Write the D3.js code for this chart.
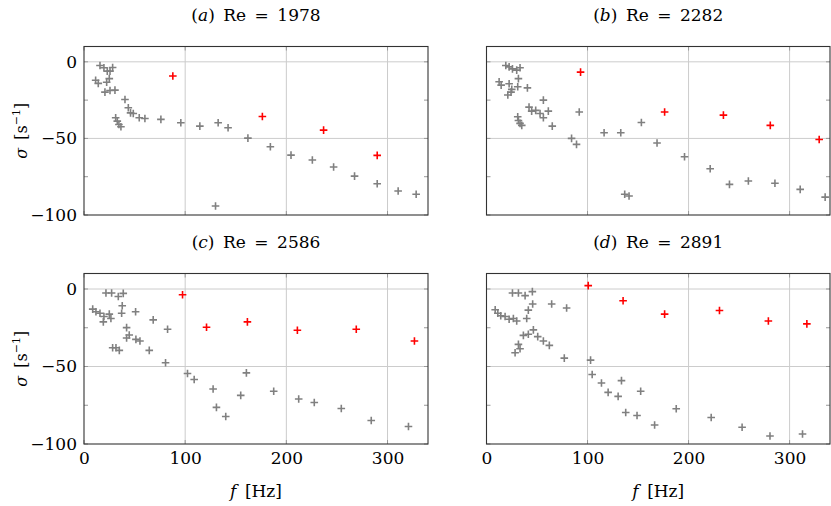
<!DOCTYPE html>
<html>
<head>
<meta charset="utf-8">
<script src="https://cdn.jsdelivr.net/npm/d3@7"></script>
<style>
  html, body { margin: 0; padding: 0; background: #fff; }
  svg text { font-family: "DejaVu Serif", "Liberation Serif", serif; fill: #000; }
</style>
</head>
<body>
<svg id="chart" width="831" height="506"></svg>
<script>
// ---------- data ----------
const panelTitles = ["a", "b", "c", "d"];
const reynolds = [1978, 2282, 2586, 2891];
const xTicks = [0, 100, 200, 300];
const yTicks = [-100, -50, 0];
const yMinorTicks = [-75, -25];

// (a) Re = 1978
const aGrayF = [15.8, 19.7, 28.3, 23, 25.7, 25, 11.5, 14.1, 22.4, 20.7, 25.7, 30.6, 40.5, 43.8, 46, 48.7, 54.6, 60.2, 31.3, 32.9, 34.5, 36.5, 76, 95.7, 114.5, 132.6, 142.4, 162, 184.2, 204.6, 225.7, 246.7, 267.4, 289.8, 310.5, 328.3, 130];
const aGrayS = [-2.4, -3.9, -3.7, -6.1, -6.1, -11, -12, -14.1, -13.3, -19.8, -18.7, -18.5, -24.6, -30, -33.3, -33.7, -36.5, -37, -36.5, -38.7, -40.9, -42.4, -37.6, -39.8, -42, -39.8, -43, -49.8, -55.4, -60.9, -64.1, -68.7, -74.6, -79.6, -84.3, -86.5, -94.1];
const aRedF = [87.8, 176.3, 236.8, 289.8];
const aRedS = [-9.3, -35.7, -44.6, -61.1];

// (b) Re = 2282
const bGrayF = [19.1, 22.4, 25.7, 29.9, 33.2, 31.6, 12.5, 14.5, 22.4, 30.9, 40.5, 25, 21.1, 24.3, 56.3, 42.1, 44.7, 48.7, 53, 61.2, 56.3, 30.9, 31.6, 33.2, 34.9, 65.1, 91.8, 84.2, 89.1, 116.4, 132.9, 153.3, 168.8, 196, 221.4, 240.5, 259.2, 285.5, 310.5, 335.2, 136.8, 141.1];
const bGrayS = [-2.4, -3.3, -4.6, -5.4, -3.9, -11, -13, -15.2, -14.3, -16.3, -17, -18, -21.7, -19.8, -25, -29.6, -32.2, -31.7, -33.7, -32.2, -36.5, -35.9, -38.3, -40.2, -41.5, -42, -32.8, -50, -53.9, -46.3, -46.3, -39.6, -53, -62, -69.8, -80, -77.8, -79.3, -83.3, -88.3, -86.5, -87.6];
const bRedF = [93.1, 176.3, 234.5, 280.9, 329.3];
const bRedS = [-6.7, -32.8, -34.8, -41.5, -50.7];

// (c) Re = 2586
const cGrayF = [21.7, 27.3, 33.9, 38.8, 37.8, 37.2, 51, 8.6, 11.8, 15.8, 19.7, 25, 26.6, 19.1, 68.4, 82.6, 42.1, 44.7, 42.1, 51.3, 55.3, 28.3, 31.6, 34.9, 64.5, 80.6, 102.3, 108.9, 127.6, 130.9, 140.1, 154.9, 160.5, 187.5, 212.2, 227.6, 254.3, 283.9, 320.7];
const cGrayS = [-2.6, -2.6, -4.8, -2.8, -10.8, -15.6, -14.7, -13, -14.7, -15.6, -17.7, -16.2, -19, -21.2, -19.9, -26, -24.9, -29.7, -31.6, -32.5, -33.5, -37.9, -37.9, -39.6, -39.6, -47.6, -54.5, -58.4, -64.5, -76.4, -82.3, -68.6, -54.1, -66, -71, -73.2, -77.1, -84.8, -88.7];
const cRedF = [97.4, 121.1, 161.5, 210.9, 269.1, 326.6];
const cRedS = [-3.7, -24.7, -21.2, -26.6, -26, -33.5];

// (d) Re = 2891
const dGrayF = [25.7, 31.6, 38.2, 45.4, 45.7, 41.4, 64.5, 79.3, 8.6, 11.2, 14.1, 18.4, 22.4, 26.6, 29.9, 39.8, 46.4, 41.4, 36.5, 50.7, 56.3, 62.2, 31.6, 33.2, 28.3, 77, 103, 104.6, 113.8, 133.6, 120.4, 130.3, 152.6, 137.8, 149, 166.4, 187.8, 222.4, 253, 280.6, 312.8];
const dGrayS = [-2.6, -2.6, -4.3, -1.7, -9.7, -13.6, -9.7, -12.3, -13.4, -15.6, -17.3, -17.7, -19.5, -19, -20.6, -19, -26.4, -29.2, -29.9, -30.7, -33.5, -36.4, -35.7, -38.5, -41.1, -44.6, -45.9, -55.2, -60.6, -59.1, -66.7, -69.3, -66, -79.7, -81.6, -87.7, -77.3, -82.9, -89.2, -94.8, -93.5];
const dRedF = [100.7, 135.2, 176.3, 230.6, 279, 317.1];
const dRedS = [2.2, -7.6, -16.2, -13.9, -20.6, -22.5];

const grayF = [aGrayF, bGrayF, cGrayF, dGrayF];
const grayS = [aGrayS, bGrayS, cGrayS, dGrayS];
const redF = [aRedF, bRedF, cRedF, dRedF];
const redS = [aRedS, bRedS, cRedS, dRedS];

// ---------- layout ----------
const FONT = "'DejaVu Serif', 'Liberation Serif', serif";
const svg = d3.select("#chart");
const colsX = [[84, 428], [486.5, 830]];
const rowsY = [[46.5, 215], [273.5, 444]];
const GRAY = "#808080", RED = "#ff0000";

panelTitles.forEach((p, i) => {
  const col = i % 2, row = Math.floor(i / 2);
  const [x0, x1] = colsX[col];
  const [y0, y1] = rowsY[row];
  const x = d3.scaleLinear().domain([0, 340]).range([x0, x1]);
  const y = d3.scaleLinear().domain([-100, 10]).range([y1, y0]);
  const g = svg.append("g");

  // grid
  g.selectAll(".gx").data(xTicks.filter(t => t > 0)).join("line")
    .attr("x1", d => x(d)).attr("x2", d => x(d))
    .attr("y1", y0).attr("y2", y1)
    .attr("stroke", "#cccccc").attr("stroke-width", 1);
  g.selectAll(".gy").data(yTicks.filter(t => t > -100)).join("line")
    .attr("x1", x0).attr("x2", x1)
    .attr("y1", d => y(d)).attr("y2", d => y(d))
    .attr("stroke", "#cccccc").attr("stroke-width", 1);

  // tick marks inside frame
  const tl = 4;
  xTicks.forEach(t => {
    g.append("line").attr("x1", x(t)).attr("x2", x(t)).attr("y1", y1).attr("y2", y1 - tl).attr("stroke", "#999");
    g.append("line").attr("x1", x(t)).attr("x2", x(t)).attr("y1", y0).attr("y2", y0 + tl).attr("stroke", "#999");
  });
  [...yTicks, ...yMinorTicks].forEach(t => {
    g.append("line").attr("x1", x0).attr("x2", x0 + tl).attr("y1", y(t)).attr("y2", y(t)).attr("stroke", "#999");
    g.append("line").attr("x1", x1).attr("x2", x1 - tl).attr("y1", y(t)).attr("y2", y(t)).attr("stroke", "#999");
  });

  // markers
  const plus = (fArr, sArr, color) => {
    const pts = fArr.map((f, k) => [f, sArr[k]]);
    g.append("g").selectAll("path").data(pts).join("path")
      .attr("d", d => {
        const cx = x(d[0]), cy = y(d[1]), r = 3.8;
        return `M${cx - r},${cy}H${cx + r}M${cx},${cy - r}V${cy + r}`;
      })
      .attr("stroke", color).attr("stroke-width", 1.6).attr("fill", "none");
  };
  plus(grayF[i], grayS[i], GRAY);
  plus(redF[i], redS[i], RED);

  // frame
  g.append("rect").attr("x", x0).attr("y", y0).attr("width", x1 - x0).attr("height", y1 - y0)
    .attr("fill", "none").attr("stroke", "#333").attr("stroke-width", 1.1);

  // y axis labels (left column)
  if (col === 0) {
    const ax = d3.axisLeft(y).tickValues(yTicks).tickSize(0).tickPadding(7)
      .tickFormat(d => d < 0 ? "\u2212" + Math.abs(d) : String(d));
    const ag = g.append("g").attr("transform", `translate(${x0},0)`).call(ax);
    ag.select(".domain").remove();
    ag.attr("font-family", FONT).attr("font-size", 17);
    ag.selectAll("text").attr("font-family", FONT).attr("font-size", 17).attr("fill", "#000");
    const t = g.append("text")
      .attr("transform", `translate(27,${(y0 + y1) / 2}) rotate(-90)`)
      .attr("text-anchor", "middle").attr("font-size", 16).attr("font-family", FONT);
    t.append("tspan").attr("font-style", "italic").text("\u03c3");
    t.append("tspan").text("\u2002[s");
    t.append("tspan").attr("dy", -7).attr("font-size", 11).text("\u22121");
    t.append("tspan").attr("dy", 7).text("]");
  }
  // x axis labels (bottom row)
  if (row === 1) {
    const ax = d3.axisBottom(x).tickValues(xTicks).tickSize(0).tickPadding(8)
      .tickFormat(d => String(d));
    const ag = g.append("g").attr("transform", `translate(0,${y1})`).call(ax);
    ag.select(".domain").remove();
    ag.attr("font-family", FONT).attr("font-size", 17);
    ag.selectAll("text").attr("font-family", FONT).attr("font-size", 17).attr("fill", "#000");
    const t = g.append("text").attr("x", (x0 + x1) / 2).attr("y", 497)
      .attr("text-anchor", "middle").attr("font-size", 17).attr("font-family", FONT);
    t.append("tspan").attr("font-style", "italic").text("f");
    t.append("tspan").text("\u2002[Hz]");
  }
  // title
  const tt = g.append("text").attr("x", (x0 + x1) / 2).attr("y", y0 - 26)
    .attr("text-anchor", "middle").attr("font-size", 17).attr("font-family", FONT);
  tt.append("tspan").text("(");
  tt.append("tspan").attr("font-style", "italic").text(p);
  tt.append("tspan").text(")\u2002Re\u2002=\u2002" + reynolds[i]);
});
</script>
</body>
</html>
